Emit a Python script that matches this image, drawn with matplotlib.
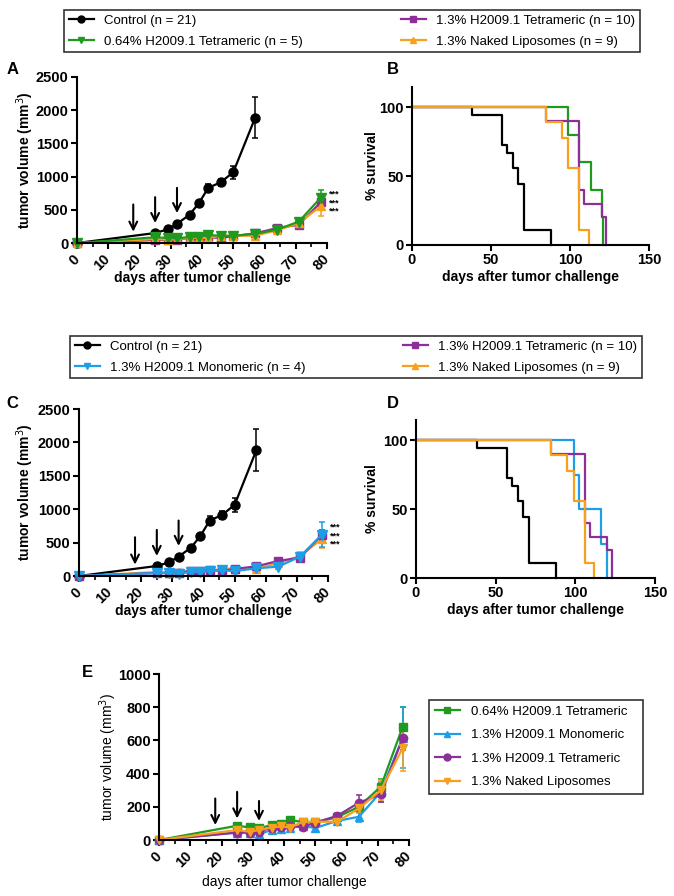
import matplotlib
matplotlib.use('Agg')
import matplotlib.pyplot as plt
from matplotlib.lines import Line2D
from matplotlib.ticker import MultipleLocator

plt.rcParams['font.family'] = ['Liberation Sans', 'DejaVu Sans']

W, H, DPI = 674, 896, 100

# ---------------- data ----------------
days = [0, 25, 29, 32, 36, 39, 42, 46, 50, 57, 64, 71, 78]
control_days = [0, 25, 29, 32, 36, 39, 42, 46, 50, 57]
control_mean = [0, 150, 205, 290, 425, 600, 830, 915, 1065, 1885]
control_err = [0, 10, 15, 20, 25, 30, 65, 55, 100, 310]

tet064_mean = [0, 86, 76, 70, 90, 96, 121, 107, 107, 137, 201, 322, 683]
tet064_err = [0, 15, 12, 12, 15, 15, 20, 15, 15, 20, 25, 45, 120]

mono13_mean = [0, 45, 45, 35, 60, 65, 75, 85, 72, 115, 140, 290, 617]
mono13_err = [0, 10, 15, 15, 15, 15, 15, 15, 20, 15, 30, 60, 185]

tet13_mean = [0, 45, 45, 50, 75, 80, 85, 78, 105, 145, 225, 275, 614]
tet13_err = [0, 10, 10, 10, 10, 10, 12, 15, 15, 15, 45, 45, 70]

naked_mean = [0, 60, 50, 60, 75, 82, 75, 110, 110, 110, 190, 300, 554]
naked_err = [0, 10, 10, 10, 12, 12, 10, 15, 15, 15, 30, 60, 140]

# survival (Kaplan-Meier steps)
surv_control_t = [0, 38, 57, 60, 64, 67, 71, 88]
surv_control_s = [100, 94.4, 72.2, 66.7, 55.6, 44.4, 11.1, 0]
surv_tet064_t = [0, 99, 106, 113, 120, 121]
surv_tet064_s = [100, 80, 60, 40, 20, 0]
surv_tet13_t = [0, 85, 106, 109, 120, 123]
surv_tet13_s = [100, 90, 40, 30, 20, 0]
surv_naked_t = [0, 85, 95, 99, 106, 112]
surv_naked_s = [100, 88.9, 77.8, 55.6, 11.1, 0]
surv_mono13_t = [0, 99, 102, 116, 120]
surv_mono13_s = [100, 75, 50, 25, 0]

lab_control = 'Control (n = 21)'
lab_tet064 = '0.64% H2009.1 Tetrameric (n = 5)'
lab_tet13 = '1.3% H2009.1 Tetrameric (n = 10)'
lab_naked = '1.3% Naked Liposomes (n = 9)'
lab_mono13 = '1.3% H2009.1 Monomeric (n = 4)'
labE = ['0.64% H2009.1 Tetrameric', '1.3% H2009.1 Monomeric',
        '1.3% H2009.1 Tetrameric', '1.3% Naked Liposomes']

C_BLACK = '#000000'
C_GREEN = '#1f9a1f'
C_PURPLE = '#8e2f99'
C_ORANGE = '#f7a01e'
C_BLUE = '#1e9ee6'

TICK_FS = 10.5

# ---------------- helpers ----------------
fig = plt.figure(figsize=(W / DPI, H / DPI), dpi=DPI)


def px_axes(l, r, t, b):
    return fig.add_axes([l / W, 1 - b / H, (r - l) / W, (b - t) / H])


def style(ax):
    for s in ['top', 'right']:
        ax.spines[s].set_visible(False)
    for s in ['left', 'bottom']:
        ax.spines[s].set_linewidth(1.5)
    ax.tick_params(which='major', width=1.5, length=4, pad=2)
    ax.tick_params(which='minor', width=1.2, length=3)


def tumor_axes(ax, ymax, ystep, xlabel_y, ylabel_x, bold_labels=True):
    style(ax)
    ax.set_xlim(0, 80)
    ax.set_ylim(0, ymax)
    xt = list(range(0, 81, 10))
    ax.set_xticks(xt, [str(v) for v in xt], fontweight='bold', fontsize=TICK_FS,
                  rotation=45, ha='right', va='center', rotation_mode='anchor')
    ax.tick_params(axis='x', pad=6)
    ax.xaxis.set_minor_locator(MultipleLocator(5))
    yt = list(range(0, ymax + 1, ystep))
    ax.set_yticks(yt, [str(v) for v in yt], fontweight='bold', fontsize=TICK_FS)
    w = 'bold' if bold_labels else 'normal'
    ax.set_xlabel('days after tumor challenge', fontweight=w, fontsize=10)
    ax.set_ylabel('tumor volume (mm$^3$)', fontweight=w, fontsize=10)
    ax.xaxis.set_label_coords(0.5, xlabel_y)
    ax.xaxis.label.set_va('center')
    ax.yaxis.set_label_coords(ylabel_x, 0.5)
    ax.yaxis.label.set_va('center')


def survival_axes(ax, xlabel_y, ylabel_x):
    style(ax)
    ax.set_xlim(0, 150)
    ax.set_ylim(0, 114.5)
    ax.set_xticks([0, 50, 100, 150], ['0', '50', '100', '150'],
                  fontweight='bold', fontsize=TICK_FS)
    ax.set_yticks([0, 50, 100], ['0', '50', '100'], fontweight='bold', fontsize=TICK_FS)
    ax.set_xlabel('days after tumor challenge', fontweight='bold', fontsize=10)
    ax.set_ylabel('% survival', fontweight='bold', fontsize=10)
    ax.xaxis.set_label_coords(0.5, xlabel_y)
    ax.xaxis.label.set_va('center')
    ax.yaxis.set_label_coords(ylabel_x, 0.5)
    ax.yaxis.label.set_va('center')


def eb(ax, x, y, e, color, marker, ms):
    c = ax.errorbar(x, y, yerr=e, color=color, marker=marker, ms=ms, lw=1.6,
                    elinewidth=1.1, capsize=2.5, capthick=1.1, mec=color, mfc=color)
    c.lines[0].set_clip_on(False)
    for art in list(c.lines[1]) + list(c.lines[2]):
        art.set_clip_on(False)


def arrows(ax, specs):
    for x, y0, y1 in specs:
        ax.annotate('', xy=(x, y1), xytext=(x, y0),
                    arrowprops=dict(arrowstyle='->', lw=1.5, color='black',
                                    mutation_scale=14, shrinkA=0, shrinkB=0))


def stars(ax, y):
    ax.text(80.6, y, '***\n***\n***', fontsize=6.5, fontweight='bold', ha='left',
            va='center', linespacing=0.95, clip_on=False)


def km(ax, t, s, color):
    ax.step(t, s, where='post', color=color, lw=1.6, clip_on=False)


def handle(color, marker, ms=5):
    return Line2D([], [], color=color, marker=marker, ms=ms, lw=1.6)


def panel_letter(x, y, s):
    fig.text(x / W, 1 - y / H, s, fontsize=12, fontweight='bold',
             ha='center', va='center')


def top_legend(handles, labels, l, r, t, b):
    lg = fig.legend(handles, labels, ncol=2, loc='center', mode='expand',
                    bbox_to_anchor=(l / W, 1 - b / H, (r - l) / W, (b - t) / H),
                    borderaxespad=0, fontsize=9.5, fancybox=False, frameon=True,
                    handlelength=1.9, handletextpad=0.8, labelspacing=0.65,
                    borderpad=0.35, edgecolor='black')
    lg.get_frame().set_linewidth(1.2)
    return lg


# ---------------- legend 1 ----------------
top_legend([handle(C_BLACK, 'o'), handle(C_GREEN, 'v'), handle(C_PURPLE, 's'), handle(C_ORANGE, '^')],
           [lab_control, lab_tet064, lab_tet13, lab_naked], 64, 640, 10, 52)

# ---------------- panel A ----------------
axA = px_axes(77, 327, 77, 243)
tumor_axes(axA, 2500, 500, -0.21, -0.208)
eb(axA, control_days, control_mean, control_err, C_BLACK, 'o', 6.5)
eb(axA, days, tet13_mean, tet13_err, C_PURPLE, 's', 5.5)
eb(axA, days, naked_mean, naked_err, C_ORANGE, '^', 6)
eb(axA, days, tet064_mean, tet064_err, C_GREEN, 'v', 6.5)
arrows(axA, [(18, 580, 170), (25, 690, 300), (32, 830, 450)])
stars(axA, 605)
panel_letter(13, 70, 'A')

# ---------------- panel B ----------------
axB = px_axes(412, 649, 87, 245)
survival_axes(axB, -0.2, -0.17)
km(axB, surv_control_t, surv_control_s, C_BLACK)
km(axB, surv_tet064_t, surv_tet064_s, C_GREEN)
km(axB, surv_tet13_t, surv_tet13_s, C_PURPLE)
km(axB, surv_naked_t, surv_naked_s, C_ORANGE)
panel_letter(393, 70, 'B')

# ---------------- legend 2 ----------------
top_legend([handle(C_BLACK, 'o'), handle(C_BLUE, 'v'), handle(C_PURPLE, 's'), handle(C_ORANGE, '^')],
           [lab_control, lab_mono13, lab_tet13, lab_naked], 70, 642, 335, 379)

# ---------------- panel C ----------------
axC = px_axes(79, 328, 409, 576)
tumor_axes(axC, 2500, 500, -0.21, -0.215)
eb(axC, control_days, control_mean, control_err, C_BLACK, 'o', 6.5)
eb(axC, days, naked_mean, naked_err, C_ORANGE, '^', 6)
eb(axC, days, tet13_mean, tet13_err, C_PURPLE, 's', 5.5)
eb(axC, days, mono13_mean, mono13_err, C_BLUE, 'v', 6.5)
arrows(axC, [(18, 580, 170), (25, 690, 300), (32, 830, 450)])
stars(axC, 605)
panel_letter(12, 403, 'C')

# ---------------- panel D ----------------
axD = px_axes(416, 655, 420, 578)
survival_axes(axD, -0.2, -0.184)
km(axD, surv_control_t, surv_control_s, C_BLACK)
km(axD, surv_mono13_t, surv_mono13_s, C_BLUE)
km(axD, surv_tet13_t, surv_tet13_s, C_PURPLE)
km(axD, surv_naked_t, surv_naked_s, C_ORANGE)
panel_letter(393, 403, 'D')

# ---------------- panel E ----------------
axE = px_axes(159, 409, 674, 840)
tumor_axes(axE, 1000, 200, -0.253, -0.204, bold_labels=False)
eb(axE, days, tet064_mean, tet064_err, C_GREEN, 's', 5.5)
eb(axE, days, mono13_mean, mono13_err, C_BLUE, '^', 6)
eb(axE, days, tet13_mean, tet13_err, C_PURPLE, 'o', 6)
eb(axE, days, naked_mean, naked_err, C_ORANGE, 'v', 6)
arrows(axE, [(18, 250, 90), (25, 290, 130), (32, 235, 115)])
panel_letter(87, 672, 'E')

legE = fig.legend([handle(C_GREEN, 's'), handle(C_BLUE, '^'), handle(C_PURPLE, 'o'), handle(C_ORANGE, 'v')],
                  labE, ncol=1, loc='center', mode='expand',
                  bbox_to_anchor=(429 / W, 1 - 797 / H, 214 / W, 100 / H),
                  borderaxespad=0, fontsize=9.5, fancybox=False, frameon=True,
                  handlelength=1.9, handletextpad=0.8, labelspacing=0.85,
                  borderpad=0.45, edgecolor='black')
legE.get_frame().set_linewidth(1.2)

fig.savefig('out.png', dpi=DPI)
